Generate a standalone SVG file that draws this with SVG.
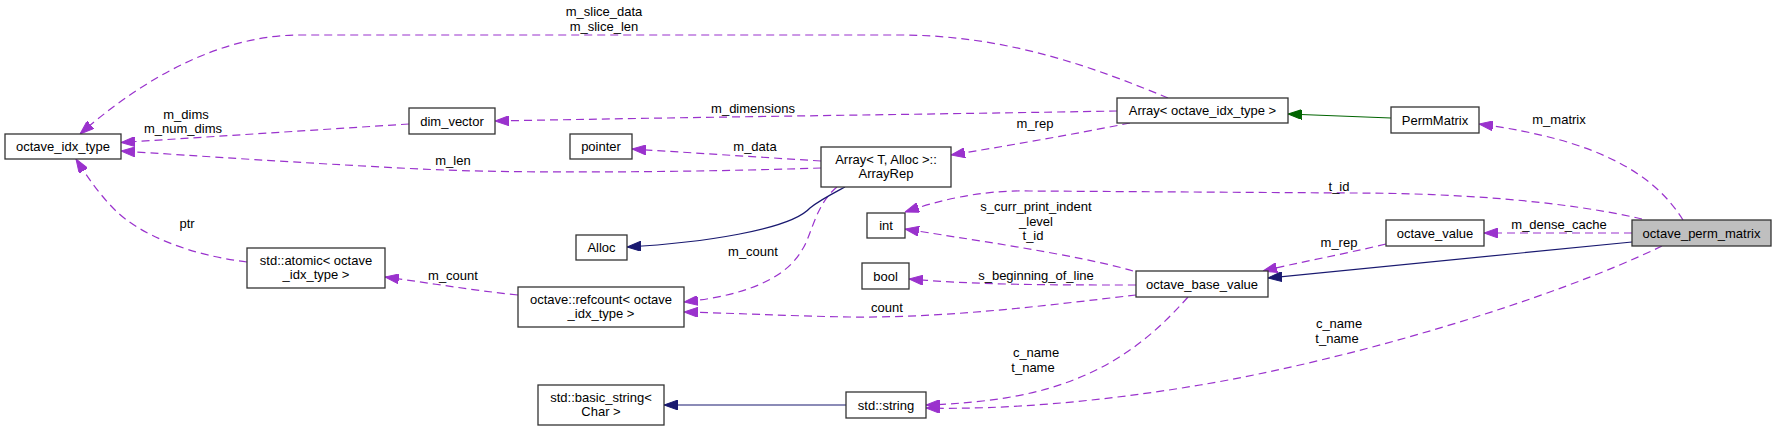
<svg xmlns="http://www.w3.org/2000/svg" width="1776" height="431" viewBox="0 0 1776 431">
<style>
text{font-family:"Liberation Sans",Arial,sans-serif;font-size:13px;fill:#000;text-anchor:middle}
.n rect{fill:#fff;stroke:#333;stroke-width:1.3}
.n rect.hl{fill:#bfbfbf}
.e path{fill:none;stroke-width:1.2}
.d{stroke:#9a32cd;stroke-dasharray:8,5;marker-end:url(#ap)}
.b{stroke:#191970;marker-end:url(#ab)}
.g{stroke:#006400;marker-end:url(#ag)}
</style>
<defs>
<marker id="ap" viewBox="0 0 14 10" refX="14" refY="5" markerWidth="14" markerHeight="10" markerUnits="userSpaceOnUse" orient="auto"><path d="M0,0 L14,5 L0,10 z" fill="#9a32cd" stroke="#9a32cd" stroke-width="1"/></marker>
<marker id="ab" viewBox="0 0 14 10" refX="14" refY="5" markerWidth="14" markerHeight="10" markerUnits="userSpaceOnUse" orient="auto"><path d="M0,0 L14,5 L0,10 z" fill="#191970" stroke="#191970" stroke-width="1"/></marker>
<marker id="ag" viewBox="0 0 14 10" refX="14" refY="5" markerWidth="14" markerHeight="10" markerUnits="userSpaceOnUse" orient="auto"><path d="M0,0 L14,5 L0,10 z" fill="#006400" stroke="#006400" stroke-width="1"/></marker>
</defs>
<rect width="1776" height="431" fill="#fff"/>
<g id="connectors" class="e">
<path class="d" d="M1168,98 C1100,70 1010,35 900,35 L300,35 C210,35 130,90 80,134"/>
<path class="d" d="M409,124 L121,142.5"/>
<path class="d" d="M821,168 C700,172 520,174 420,169 C300,163 200,156 121,151"/>
<path class="d" d="M821,161 L632,149"/>
<path class="d" d="M1117,111 C950,114 700,117 495,121"/>
<path class="d" d="M1130,123 C1070,135 1000,147 951,155"/>
<path class="g" d="M1391,118 L1288,114"/>
<path class="d" d="M1683,220 C1655,175 1600,140 1479,124"/>
<path class="d" d="M1642,219 C1560,200 1450,193 1350,193 L1030,191 C980,190 940,200 905,212"/>
<path class="d" d="M1386,244 C1340,255 1300,262 1263,271"/>
<path class="d" d="M1632,233 L1484,233"/>
<path class="b" d="M1632,242 L1268,278"/>
<path class="d" d="M1662,246 C1550,300 1350,360 1200,385 C1100,402 1000,410 926,408"/>
<path class="d" d="M1188,297 C1150,340 1110,370 1050,388 C1010,400 960,404 926,405"/>
<path class="d" d="M1133,271 C1080,255 960,238 905,229"/>
<path class="d" d="M1136,285 C1050,285 980,285 909,279"/>
<path class="d" d="M1136,295 C1050,305 950,318 850,317 C790,316 730,313 684,312"/>
<path class="d" d="M837,187 C815,205 812,235 802,250 C782,285 730,297 684,302"/>
<path class="b" d="M845,187 C830,195 820,200 810,208 C790,230 700,243 627,247"/>
<path class="d" d="M518,295 C470,290 430,283 385,277"/>
<path class="d" d="M247,262 C190,255 140,235 115,210 C100,195 88,178 76,159"/>
<path class="b" d="M846,405 L664,405"/>
</g>
<g id="edge-labels">
<text x="604" y="16">m_slice_data</text>
<text x="604" y="31">m_slice_len</text>
<text x="186" y="119">m_dims</text>
<text x="183" y="133">m_num_dims</text>
<text x="453" y="165">m_len</text>
<text x="755" y="151">m_data</text>
<text x="753" y="113">m_dimensions</text>
<text x="1035" y="128">m_rep</text>
<text x="1559" y="124">m_matrix</text>
<text x="1339" y="191">t_id</text>
<text x="1339" y="247">m_rep</text>
<text x="1559" y="229">m_dense_cache</text>
<text x="1339" y="328">c_name</text>
<text x="1337" y="343">t_name</text>
<text x="1036" y="357">c_name</text>
<text x="1033" y="372">t_name</text>
<text x="1036" y="211">s_curr_print_indent</text>
<text x="1036" y="225.5">_level</text>
<text x="1033" y="240">t_id</text>
<text x="1036" y="279.5">s_beginning_of_line</text>
<text x="887" y="312">count</text>
<text x="753" y="256">m_count</text>
<text x="453" y="279.5">m_count</text>
<text x="187" y="228">ptr</text>
</g>
<g id="octave_idx_type" class="n"><rect x="5" y="134" width="116" height="25"/><text x="63" y="151">octave_idx_type</text></g>
<g id="dim_vector" class="n"><rect x="409" y="108" width="86" height="26"/><text x="452" y="125.5">dim_vector</text></g>
<g id="pointer" class="n"><rect x="570" y="134" width="62" height="25"/><text x="601" y="151">pointer</text></g>
<g id="ArrayRep" class="n"><rect x="821" y="147" width="130" height="40"/><text x="886" y="163.5">Array&lt; T, Alloc &gt;::</text><text x="886" y="177.5">ArrayRep</text></g>
<g id="Array_octave_idx_type" class="n"><rect x="1117" y="98" width="171" height="25"/><text x="1202.5" y="115">Array&lt; octave_idx_type &gt;</text></g>
<g id="PermMatrix" class="n"><rect x="1391" y="107" width="88" height="26"/><text x="1435" y="124.5">PermMatrix</text></g>
<g id="octave_perm_matrix" class="n"><rect class="hl" x="1632" y="220" width="139" height="26"/><text x="1701.5" y="237.5">octave_perm_matrix</text></g>
<g id="octave_value" class="n"><rect x="1386" y="220" width="98" height="26"/><text x="1435" y="237.5">octave_value</text></g>
<g id="int" class="n"><rect x="867" y="213" width="38" height="25"/><text x="886" y="230">int</text></g>
<g id="bool" class="n"><rect x="862" y="263" width="47" height="26"/><text x="885.5" y="280.5">bool</text></g>
<g id="octave_base_value" class="n"><rect x="1136" y="271" width="132" height="26"/><text x="1202" y="288.5">octave_base_value</text></g>
<g id="std_string" class="n"><rect x="846" y="392" width="80" height="26"/><text x="886" y="409.5">std::string</text></g>
<g id="std_basic_string" class="n"><rect x="538" y="385" width="126" height="40"/><text x="601" y="401.5">std::basic_string&lt;</text><text x="601" y="415.5">Char &gt;</text></g>
<g id="refcount" class="n"><rect x="518" y="287" width="166" height="40"/><text x="601" y="303.5">octave::refcount&lt; octave</text><text x="601" y="317.5">_idx_type &gt;</text></g>
<g id="Alloc" class="n"><rect x="576" y="235" width="51" height="25"/><text x="601.5" y="252">Alloc</text></g>
<g id="std_atomic" class="n"><rect x="247" y="248" width="138" height="40"/><text x="316" y="264.5">std::atomic&lt; octave</text><text x="316" y="278.5">_idx_type &gt;</text></g>
</svg>
